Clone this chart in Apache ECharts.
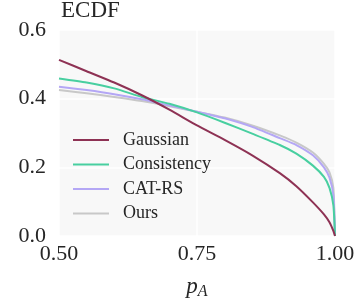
<!DOCTYPE html>
<html>
<head>
<meta charset="utf-8">
<script src="https://cdn.jsdelivr.net/npm/echarts@6/dist/echarts.min.js"></script>
<style>
  html, body { margin: 0; padding: 0; background: #fff; }
  #ecdf-chart { width: 359px; height: 305px; }
</style>
</head>
<body>
<div id="ecdf-chart"></div>
<script>
var pA = [0.50, 0.55, 0.60, 0.65, 0.70, 0.75, 0.80, 0.85, 0.90, 0.93, 0.96, 0.98, 0.99, 0.997, 1.00];

var gaussian    = [0.513, 0.480, 0.447, 0.410, 0.368, 0.322, 0.280, 0.235, 0.183, 0.145, 0.098, 0.063, 0.040, 0.015, 0.0];
var consistency = [0.459, 0.447, 0.430, 0.405, 0.385, 0.360, 0.330, 0.298, 0.265, 0.240, 0.205, 0.172, 0.140, 0.090, 0.0];
var catRs       = [0.435, 0.425, 0.413, 0.398, 0.380, 0.362, 0.343, 0.318, 0.285, 0.265, 0.235, 0.200, 0.170, 0.120, 0.0];
var ours        = [0.425, 0.416, 0.405, 0.393, 0.378, 0.362, 0.345, 0.322, 0.293, 0.272, 0.243, 0.210, 0.185, 0.140, 0.0];

var xTicks = [0.50, 0.75, 1.00];
var yTicks = [0.0, 0.2, 0.4, 0.6];

var seriesNames = ['Gaussian', 'Consistency', 'CAT-RS', 'Ours'];
var seriesColors = ['#8E3254', '#48CFA0', '#B4A7F5', '#C8C8C8'];
var seriesValues = [gaussian, consistency, catRs, ours];

var serif = '"Liberation Serif", "DejaVu Serif", serif';
var textColor = '#262626';

function pairs(values) {
  return values.map(function (v, i) { return [pA[i], v]; });
}

var ecdfChart = echarts.init(document.getElementById('ecdf-chart'));

var option = {
  animation: false,
  title: {
    text: 'ECDF',
    left: 56,
    top: -6,
    textStyle: {
      fontFamily: serif,
      fontSize: 23,
      fontWeight: 'normal',
      color: textColor
    }
  },
  grid: {
    left: 59,
    right: 24,
    top: 30,
    bottom: 69,
    show: true,
    backgroundColor: '#F8F8F8',
    borderWidth: 0
  },
  legend: {
    orient: 'vertical',
    left: 73,
    top: 131,
    padding: 0,
    itemGap: 6.5,
    itemWidth: 36,
    itemHeight: 2,
    icon: 'rect',
    data: seriesNames,
    textStyle: {
      fontFamily: serif,
      fontSize: 18,
      color: textColor,
      padding: [0, 0, 0, 9]
    }
  },
  xAxis: {
    type: 'value',
    min: 0.5,
    max: 1.0,
    interval: 0.25,
    name: '{p|p}{a|A}',
    nameLocation: 'middle',
    nameGap: 38,
    nameTextStyle: {
      rich: {
        p: { fontFamily: serif, fontStyle: 'italic', fontSize: 23, color: textColor },
        a: { fontFamily: serif, fontStyle: 'italic', fontSize: 16, color: textColor, verticalAlign: 'bottom', padding: [10, 0, 0, 0] }
      }
    },
    axisLine: { show: false },
    axisTick: { show: false },
    axisLabel: {
      margin: 7,
      fontFamily: serif,
      fontSize: 22,
      color: textColor,
      formatter: function (v) { return v.toFixed(2); }
    },
    splitLine: { show: true, lineStyle: { color: '#FFFFFF', width: 1.5 } }
  },
  yAxis: {
    type: 'value',
    min: 0,
    max: 0.6,
    interval: 0.2,
    axisLine: { show: false },
    axisTick: { show: false },
    axisLabel: {
      margin: 13,
      fontFamily: serif,
      fontSize: 22,
      color: textColor,
      formatter: function (v) { return v.toFixed(1); }
    },
    splitLine: { show: true, lineStyle: { color: '#FFFFFF', width: 1.5 } }
  },
  series: seriesNames.map(function (name, i) {
    return {
      name: name,
      type: 'line',
      data: pairs(seriesValues[i]),
      showSymbol: false,
      smooth: 0.2,
      z: 10 - i,
      itemStyle: { color: seriesColors[i] },
      lineStyle: { color: seriesColors[i], width: 2 }
    };
  })
};

ecdfChart.setOption(option);
</script>
</body>
</html>
